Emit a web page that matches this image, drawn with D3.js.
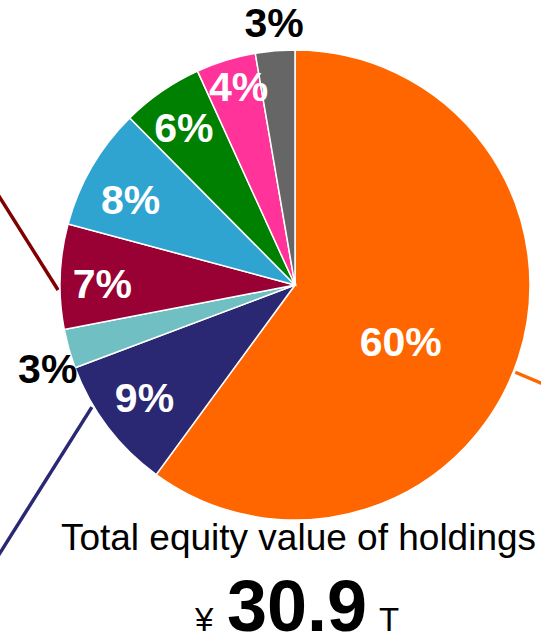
<!DOCTYPE html>
<html>
<head>
<meta charset="utf-8">
<script src="https://cdn.jsdelivr.net/npm/d3@7"></script>
<style>
  html, body { margin: 0; padding: 0; background: #fff; }
  text { font-family: "Liberation Sans", Arial, sans-serif; }
</style>
</head>
<body>
<div id="chart"></div>
<script>
// slice data, clockwise from 12 o'clock
const segments = ["a", "b", "c", "d", "e", "f", "g", "h"];
const shares = [60.0, 9.2, 2.7, 7.2, 8.4, 5.6, 4.1, 2.7];
const colors = ["#ff6600", "#2a2873", "#70bfc2", "#990033", "#30a4d0", "#008000", "#ff3399", "#666666"];
// labels that sit outside the pie (drawn black)
const outsideLabels = ["c", "h"];
const totalLabel = "Total equity value of holdings";
const totalValue = "30.9";
const totalPrefix = "¥";
const totalSuffix = "T";

const width = 541, height = 637;
const cx = 295, cy = 285, radius = 235;

const svg = d3.select("#chart")
  .append("svg")
  .attr("width", width)
  .attr("height", height);

const g = svg.append("g")
  .attr("transform", `translate(${cx}, ${cy})`);

const data = segments.map((k, i) => ({key: k, value: shares[i], color: colors[i]}));

const pie = d3.pie()
  .sort(null)
  .value(d => d.value);

const arcs = pie(data);

const arc = d3.arc()
  .innerRadius(0)
  .outerRadius(radius);

// leader lines running off the page, start on the rim (angles are compass bearings)
const leaders = [
  {key: "d", at: 268.8, dir: 327.8, len: 112, color: "#800000"},
  {key: "b", at: 239, dir: 212.2, len: 175, color: "#2a2873"},
  {key: "a", at: 111.6, dir: 113, len: 60, color: "#ff6600"}
];
const rad = deg => deg * Math.PI / 180;
g.selectAll(".leader")
  .data(leaders)
  .join("line")
  .attr("class", "leader")
  .attr("x1", d => Math.sin(rad(d.at)) * (radius + 2))
  .attr("y1", d => -Math.cos(rad(d.at)) * (radius + 2))
  .attr("x2", d => Math.sin(rad(d.at)) * (radius + 2) + Math.sin(rad(d.dir)) * d.len)
  .attr("y2", d => -Math.cos(rad(d.at)) * (radius + 2) - Math.cos(rad(d.dir)) * d.len)
  .attr("stroke", d => d.color)
  .attr("stroke-width", 3.5);

g.selectAll(".slice")
  .data(arcs)
  .join("path")
  .attr("class", "slice")
  .attr("d", arc)
  .attr("fill", d => d.data.color)
  .attr("stroke", "#fff")
  .attr("stroke-width", 1.5);

// label distance (fraction of radius) and angle nudge (deg) per slice
const labelPos = {
  a: {r: 0.51, shift: 10},
  b: {r: 0.80, shift: 0.4},
  c: {r: 1.11, shift: -2.8},
  d: {r: 0.82, shift: -1.6},
  e: {r: 0.79, shift: -2.5},
  f: {r: 0.82, shift: -0.6},
  g: {r: 0.88, shift: 1.3},
  h: {r: 1.12, shift: 0.3}
};

g.selectAll(".pct")
  .data(arcs)
  .join("text")
  .attr("class", "pct")
  .attr("transform", d => {
    const p = labelPos[d.data.key];
    const a = (d.startAngle + d.endAngle) / 2 + rad(p.shift);
    return `translate(${Math.sin(a) * radius * p.r}, ${-Math.cos(a) * radius * p.r})`;
  })
  .attr("text-anchor", "middle")
  .attr("dy", "0.36em")
  .style("font-size", "41px")
  .style("font-weight", "bold")
  .attr("fill", d => outsideLabels.includes(d.data.key) ? "#000" : "#fff")
  .text(d => Math.round(d.data.value) + "%");

// total caption
svg.append("text")
  .attr("x", 298.5)
  .attr("y", 550)
  .attr("text-anchor", "middle")
  .style("font-size", "37px")
  .attr("fill", "#000")
  .text(totalLabel);

const total = svg.append("text")
  .attr("y", 631)
  .attr("fill", "#000");
total.append("tspan")
  .attr("x", 195)
  .style("font-size", "33px")
  .text(totalPrefix);
total.append("tspan")
  .attr("x", 227)
  .style("font-size", "72px")
  .style("font-weight", "bold")
  .text(totalValue);
total.append("tspan")
  .attr("x", 379)
  .style("font-size", "33px")
  .text(totalSuffix);
</script>
</body>
</html>
